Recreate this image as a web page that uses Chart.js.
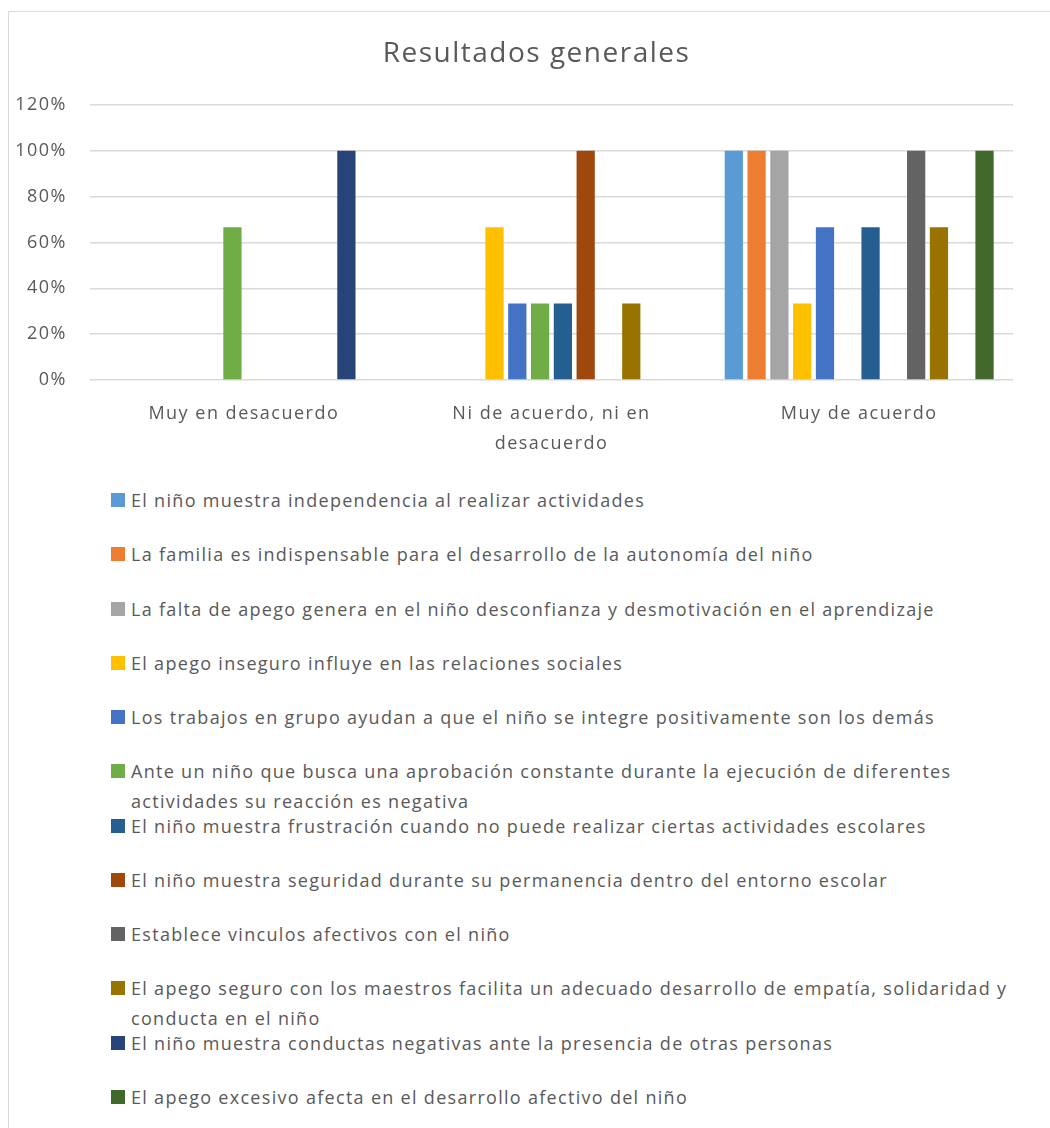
<!DOCTYPE html>
<html>
<head>
<meta charset="utf-8">
<script src="https://cdn.jsdelivr.net/npm/chart.js@4/dist/chart.umd.min.js"></script>
<style>
  body { margin: 0; background: #fff; overflow: hidden; }
  #frame { position: absolute; left: 8px; top: 11px; width: 1100px; height: 1200px; border: 1px solid #D9D9D9; box-sizing: border-box; }
  #wrap { position: absolute; left: 0; top: 0; width: 1050px; height: 470px; }
  #legend { position: absolute; left: 111px; top: 485px; width: 925px; font-family: "Open Sans", sans-serif; font-size: 18px; letter-spacing: 1.3px; color: #595959; }
  .item { display: flex; align-items: flex-start; height: 54.27px; line-height: 30px; }
  .sw { width: 14px; height: 14px; margin-top: 8px; margin-right: 6px; flex: none; }
</style>
</head>
<body>
<div id="frame"></div>
<div id="wrap"><canvas id="chart" width="1050" height="470"></canvas></div>
<div id="legend"></div>
<script>
// categorias y series (porcentajes)
const categories = ['Muy en desacuerdo', ['Ni de acuerdo, ni en', 'desacuerdo'], 'Muy de acuerdo'];
const seriesNames = [
    'El niño muestra independencia al realizar actividades',
    'La familia es indispensable para el desarrollo de la autonomía del niño',
    'La falta de apego genera en el niño desconfianza y desmotivación en el aprendizaje',
    'El apego inseguro influye en las relaciones sociales',
    'Los trabajos en grupo ayudan a que el niño se integre positivamente son los demás',
    'Ante un niño que busca una aprobación constante durante la ejecución de diferentes actividades su reacción es negativa',
    'El niño muestra frustración cuando no puede realizar ciertas actividades escolares',
    'El niño muestra seguridad durante su permanencia dentro del entorno escolar',
    'Establece vinculos afectivos con el niño',
    'El apego seguro con los maestros facilita un adecuado desarrollo de empatía, solidaridad y conducta en el niño',
    'El niño muestra conductas negativas ante la presencia de otras personas',
    'El apego excesivo afecta en el desarrollo afectivo del niño'
];
const s1 = [0, 0, 100];
const s2 = [0, 0, 100];
const s3 = [0, 0, 100];
const s4 = [0, 66.67, 33.33];
const s5 = [0, 33.33, 66.67];
const s6 = [66.67, 33.33, 0];
const s7 = [0, 33.33, 66.67];
const s8 = [0, 100, 0];
const s9 = [0, 0, 100];
const s10 = [0, 33.33, 66.67];
const s11 = [100, 0, 0];
const s12 = [0, 0, 100];
const seriesValues = [s1, s2, s3, s4, s5, s6, s7, s8, s9, s10, s11, s12];
const colors = ['#5B9BD5', '#ED7D31', '#A5A5A5', '#FFC000', '#4472C4', '#70AD47',
                '#255E91', '#9E480E', '#636363', '#997300', '#264478', '#43682B'];
const yTicks = [0, 20, 40, 60, 80, 100, 120];

const FONT = '"Open Sans", sans-serif';
const TEXT = '#595959';
const GRID = '#D9D9D9';

// el texto original es algo mas ancho: un poco de espaciado entre letras
const spacingPlugin = {
    id: 'spacing',
    beforeUpdate(chart) { chart.ctx.letterSpacing = '1.5px'; },
    beforeDraw(chart) { chart.ctx.letterSpacing = '1.5px'; },
    // el titulo va centrado sobre todo el marco, no solo sobre el area del grafico
    afterLayout(chart) {
        if (chart.titleBlock) {
            chart.titleBlock.left += 30;
            chart.titleBlock.right += 30;
        }
    }
};

const datasets = seriesNames.map((name, i) => ({
    label: name,
    data: seriesValues[i],
    backgroundColor: colors[i],
    borderWidth: 0,
    categoryPercentage: 0.889,
    barPercentage: 0.8
}));

new Chart(document.getElementById('chart'), {
    type: 'bar',
    data: { labels: categories, datasets: datasets },
    plugins: [spacingPlugin],
    options: {
        responsive: false,
        animation: false,
        layout: { padding: { left: 0, right: 37, top: 0, bottom: 0 } },
        plugins: {
            legend: { display: false },
            tooltip: { enabled: false },
            title: {
                display: true,
                text: 'Resultados generales',
                color: TEXT,
                font: { family: FONT, size: 28, weight: 'normal' },
                padding: { top: 37, bottom: 34.4 }
            }
        },
        scales: {
            x: {
                afterFit: function(scale) { scale.height = 90; },
                grid: { display: false },
                border: { display: false },
                ticks: {
                    color: TEXT,
                    font: { family: FONT, size: 18, lineHeight: 1.65 },
                    padding: 11,
                    maxRotation: 0,
                    autoSkip: false
                }
            },
            y: {
                min: 0,
                max: 120,
                afterFit: function(scale) { scale.width = 90; },
                afterBuildTicks: function(scale) { scale.ticks = yTicks.map(v => ({ value: v })); },
                grid: { color: GRID, lineWidth: 1.5, drawTicks: false },
                border: { display: false },
                ticks: {
                    color: TEXT,
                    font: { family: FONT, size: 18 },
                    padding: 23,
                    callback: function(value) { return value + '%'; }
                }
            }
        }
    }
});

// leyenda en html para permitir texto en varias lineas
const legend = document.getElementById('legend');
seriesNames.forEach((name, i) => {
    const item = document.createElement('div');
    item.className = 'item';
    item.innerHTML = `<span class="sw" style="background:${colors[i]}"></span><span>${name}</span>`;
    legend.appendChild(item);
});
</script>
</body>
</html>
